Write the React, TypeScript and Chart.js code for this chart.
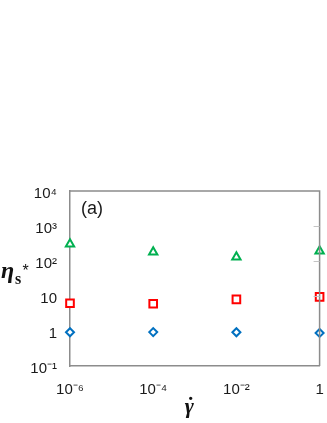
import React, { useEffect, useRef } from 'react';
import { Chart, registerables } from 'chart.js';

Chart.register(...registerables);

const shearRates = [1e-6, 1e-4, 1e-2, 1];
const xTickValues = [1e-6, 1e-4, 1e-2, 1];
const xTickLabels = ['10⁻⁶', '10⁻⁴', '10⁻²', '1'];
const yTickValues = [0.1, 1, 10, 100, 1000, 10000];
const yTickLabels = ['10⁻¹', '1', '10', '10²', '10³', '10⁴'];
const rightTickValues = [1000, 100, 10];
const triangleVals = [306, 181, 130, 193];
const squareVals = [6.2, 6.0, 8.0, 9.4];
const diamondVals = [0.92, 0.93, 0.92, 0.88];
const xTitleLines = ['˙\u2002', 'γ\u2002'];

const FRAME = '#8c8c8c';

const framePlugin = {
  id: 'frameTopRight',
  afterDatasetsDraw(chart: any) {
    const { ctx, chartArea, scales } = chart;
    ctx.save();
    ctx.strokeStyle = FRAME;
    ctx.lineWidth = 1.5;
    ctx.beginPath();
    ctx.moveTo(chartArea.left, chartArea.top);
    ctx.lineTo(chartArea.right, chartArea.top);
    ctx.lineTo(chartArea.right, chartArea.bottom);
    ctx.stroke();
    ctx.strokeStyle = '#c4c4c4';
    ctx.lineWidth = 1;
    rightTickValues.forEach((v) => {
      const y = Math.round(scales.y.getPixelForValue(v)) + 0.5;
      ctx.beginPath();
      ctx.moveTo(chartArea.right - 6, y);
      ctx.lineTo(chartArea.right, y);
      ctx.stroke();
    });
    ctx.restore();
  },
};

export default function App() {
  const canvasRef = useRef<HTMLCanvasElement | null>(null);

  useEffect(() => {
    if (!canvasRef.current) return;
    const toPts = (vals: number[]) => shearRates.map((x, i) => ({ x, y: vals[i] }));
    const chart = new Chart(canvasRef.current, {
      type: 'scatter',
      data: {
        datasets: [
          {
            label: 'diamond',
            data: toPts(diamondVals),
            pointStyle: 'rectRot',
            pointRadius: 4,
            borderWidth: 2,
            borderColor: '#0070C0',
            backgroundColor: '#ffffff',
            clip: false,
          },
          {
            label: 'square',
            data: toPts(squareVals),
            pointStyle: 'rect',
            pointRadius: 5.4,
            borderWidth: 2,
            borderColor: '#FF0000',
            backgroundColor: '#ffffff',
            clip: false,
          },
          {
            label: 'triangle',
            data: toPts(triangleVals),
            pointStyle: 'triangle',
            pointRadius: 4.8,
            borderWidth: 2,
            borderColor: '#00B050',
            backgroundColor: '#ffffff',
            clip: false,
          },
        ] as any,
      },
      options: {
        animation: false,
        responsive: false,
        events: [],
        layout: { padding: { top: 191, right: 6, bottom: 0, left: 0 } },
        plugins: {
          legend: { display: false },
          tooltip: { enabled: false },
        },
        scales: {
          x: {
            type: 'logarithmic',
            position: 'bottom',
            min: 1e-6,
            max: 1,
            afterBuildTicks: (s: any) => {
              s.ticks = xTickValues.map((value) => ({ value }));
            },
            afterFit: (s: any) => {
              s.height = 57;
              s.paddingLeft = 0;
              s.paddingRight = 0;
            },
            grid: { display: false, drawTicks: false, tickLength: 0 },
            border: { display: true, color: FRAME, width: 1.5 },
            ticks: {
              autoSkip: false,
              maxRotation: 0,
              minRotation: 0,
              padding: 15,
              color: '#1a1a1a',
              font: { family: "'Liberation Sans', Arial, sans-serif", size: 15 },
              callback: (_v: any, i: number) => xTickLabels[i],
            },
            title: {
              display: true,
              text: xTitleLines,
              color: '#111',
              padding: { top: 0, bottom: 15 },
              font: { family: "'Liberation Serif', 'Times New Roman', serif", size: 22, style: 'italic', weight: 'bold', lineHeight: 0.05 },
            },
          },
          y: {
            type: 'logarithmic',
            position: 'left',
            min: 0.1,
            max: 10000,
            afterBuildTicks: (s: any) => {
              s.ticks = yTickValues.map((value) => ({ value }));
            },
            afterFit: (s: any) => {
              s.width = 70;
            },
            grid: { display: false, drawTicks: false, tickLength: 0 },
            border: { display: true, color: FRAME, width: 1.5 },
            ticks: {
              autoSkip: false,
              padding: 13,
              labelOffset: 3,
              color: '#1a1a1a',
              font: { family: "'Liberation Sans', Arial, sans-serif", size: 15 },
              callback: (_v: any, i: number) => yTickLabels[i],
            },
          },
        },
      } as any,
      plugins: [framePlugin],
    });
    return () => chart.destroy();
  }, []);

  return (
    <div style={{ position: 'fixed', left: 0, top: 0, width: 327, height: 423, background: '#fff', overflow: 'hidden' }}>
      <canvas ref={canvasRef} width={327} height={423} style={{ position: 'absolute', left: 0, top: 0, width: 327, height: 423 }} />
      <div style={{ position: 'absolute', left: 81, top: 199, font: "18px 'Liberation Sans', Arial, sans-serif", lineHeight: '18px', color: '#1a1a1a', whiteSpace: 'nowrap' }}>(a)</div>
      <div style={{ position: 'absolute', left: 1, top: 257.9, font: "italic bold 24px 'Liberation Serif', 'Times New Roman', serif", lineHeight: '24px', color: '#111' }}>η</div>
      <div style={{ position: 'absolute', left: 15, top: 270.6, font: "bold 16px 'Liberation Serif', 'Times New Roman', serif", lineHeight: '16px', color: '#111' }}>s</div>
      <div style={{ position: 'absolute', left: 22.5, top: 263, font: "16px 'Liberation Sans', Arial, sans-serif", lineHeight: '16px', color: '#111' }}>*</div>
    </div>
  );
}
